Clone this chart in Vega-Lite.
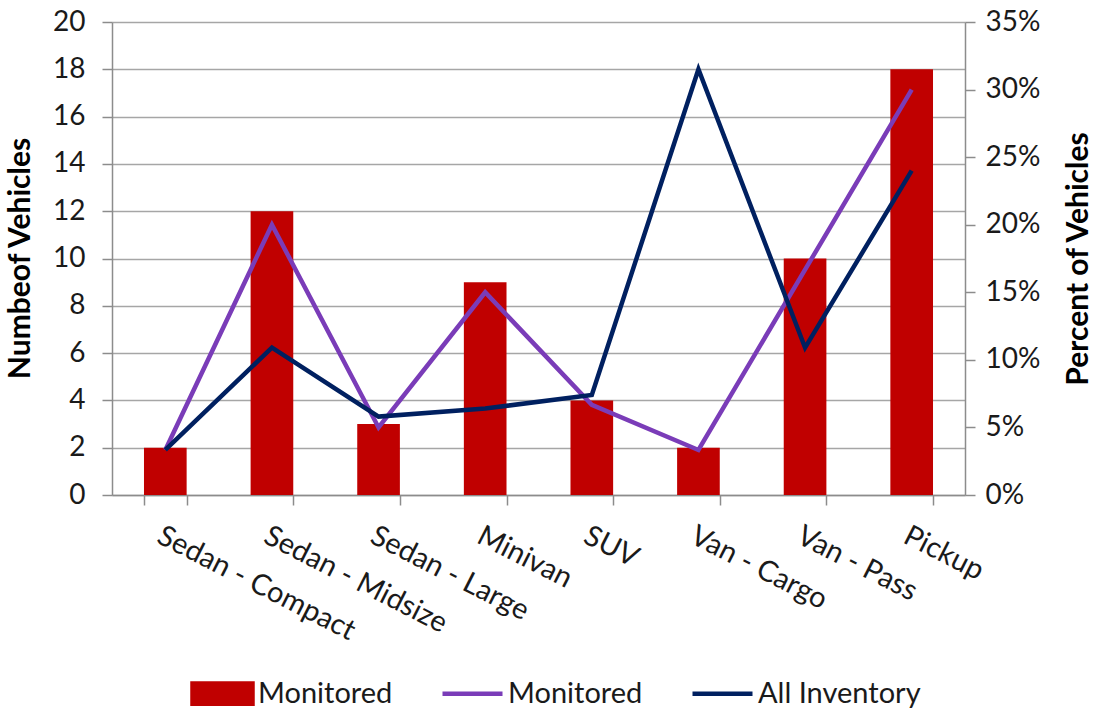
{
  "$schema": "https://vega.github.io/schema/vega-lite/v6.json",
  "width": 853,
  "height": 473,
  "autosize": {"type": "none"},
  "padding": {"left": 112, "top": 22, "right": 133, "bottom": 213},
  "background": "white",
  "config": {
    "font": "Lato",
    "view": {"stroke": null},
    "axis": {
      "labelFont": "Lato",
      "labelFontSize": 28,
      "labelColor": "#1a1a1a",
      "titleFont": "Lato",
      "titleFontSize": 30,
      "titleFontWeight": "bold",
      "titleColor": "#000000",
      "domainColor": "#8c8c8c",
      "tickColor": "#8c8c8c",
      "gridColor": "#a6a6a6",
      "domainWidth": 1.5,
      "tickWidth": 1.5,
      "gridWidth": 1.5
    }
  },
  "data": {
    "values": [
      {"type": "Sedan - Compact", "count": 2, "pct_monitored": 0.0333, "pct_all": 0.0333},
      {"type": "Sedan - Midsize", "count": 12, "pct_monitored": 0.2, "pct_all": 0.109},
      {"type": "Sedan - Large", "count": 3, "pct_monitored": 0.05, "pct_all": 0.058},
      {"type": "Minivan", "count": 9, "pct_monitored": 0.15, "pct_all": 0.064},
      {"type": "SUV", "count": 4, "pct_monitored": 0.0667, "pct_all": 0.074},
      {"type": "Van - Cargo", "count": 2, "pct_monitored": 0.0333, "pct_all": 0.315},
      {"type": "Van - Pass", "count": 10, "pct_monitored": 0.1667, "pct_all": 0.109},
      {"type": "Pickup", "count": 18, "pct_monitored": 0.3, "pct_all": 0.24}
    ]
  },
  "encoding": {
    "x": {
      "field": "type",
      "type": "nominal",
      "sort": null,
      "scale": {"paddingInner": 0.6, "paddingOuter": 0.3},
      "axis": {
        "title": null,
        "labelAngle": 27,
        "labelAlign": "left",
        "labelBaseline": "top",
        "labelPadding": 16,
        "labelFontSize": 29,
        "tickBand": "extent",
        "tickSize": 10,
        "labelLimit": 400
      }
    }
  },
  "layer": [
    {
      "mark": {"type": "bar", "color": "#c00000"},
      "encoding": {
        "y": {
          "field": "count",
          "type": "quantitative",
          "scale": {"domain": [0, 20]},
          "axis": {
            "title": "Numbeof Vehicles",
            "values": [0, 2, 4, 6, 8, 10, 12, 14, 16, 18, 20],
            "grid": true,
            "tickSize": 10,
            "labelPadding": 17,
            "titleX": -77,
            "titleY": 236
          }
        },
        "color": {
          "datum": "Monitored (count)",
          "type": "nominal",
          "scale": {
            "domain": ["Monitored (count)", "Monitored (%)", "All Inventory"],
            "range": ["#c00000", "#7a3cb8", "#002060"]
          },
          "legend": {
            "title": null,
            "orient": "none",
            "direction": "horizontal",
            "legendX": 78,
            "legendY": 639,
            "labelExpr": "datum.value == 'All Inventory' ? 'All Inventory' : 'Monitored'",
            "labelFont": "Lato",
            "labelFontSize": 29,
            "labelColor": "#1a1a1a",
            "labelLimit": 400,
            "labelOffset": 3,
            "columnPadding": 40,
            "symbolSize": 3600,
            "symbolStrokeWidth": 4,
            "encode": {
              "symbols": {
                "update": {
                  "shape": {"signal": "datum.value == 'Monitored (count)' ? 'M-1,-0.34H1V0.34H-1Z' : 'M0,-0.34L0,-0.34M0,0.34L0,0.34M-1,0H1'"},
                  "fill": {"signal": "datum.value == 'Monitored (count)' ? '#c00000' : 'transparent'"},
                  "stroke": {"signal": "datum.value == 'Monitored (count)' ? 'transparent' : (datum.value == 'Monitored (%)' ? '#7a3cb8' : '#002060')"},
                  "strokeWidth": {"value": 4.5},
                  "strokeCap": {"value": "butt"}
                }
              }
            }
          }
        }
      }
    },
    {
      "layer": [
        {
          "mark": {"type": "line", "strokeWidth": 4.5},
          "encoding": {
            "y": {
              "field": "pct_monitored",
              "type": "quantitative",
              "scale": {"domain": [0, 0.35]},
              "axis": {
                "orient": "right",
                "title": "Percent of Vehicles",
                "titleAngle": 270,
                "values": [0, 0.05, 0.1, 0.15, 0.2, 0.25, 0.3, 0.35],
                "format": ".0%",
                "grid": false,
                "tickSize": 10,
                "labelPadding": 10,
                "titlePadding": 54
              }
            },
            "color": {"datum": "Monitored (%)", "type": "nominal"}
          }
        },
        {
          "mark": {"type": "line", "strokeWidth": 4.5},
          "encoding": {
            "y": {
              "field": "pct_all",
              "type": "quantitative",
              "scale": {"domain": [0, 0.35]},
              "axis": {
                "orient": "right",
                "title": "Percent of Vehicles",
                "titleAngle": 270,
                "values": [0, 0.05, 0.1, 0.15, 0.2, 0.25, 0.3, 0.35],
                "format": ".0%",
                "grid": false,
                "tickSize": 10,
                "labelPadding": 10,
                "titlePadding": 54
              }
            },
            "color": {"datum": "All Inventory", "type": "nominal"}
          }
        }
      ]
    }
  ],
  "resolve": {"scale": {"y": "independent"}}
}
